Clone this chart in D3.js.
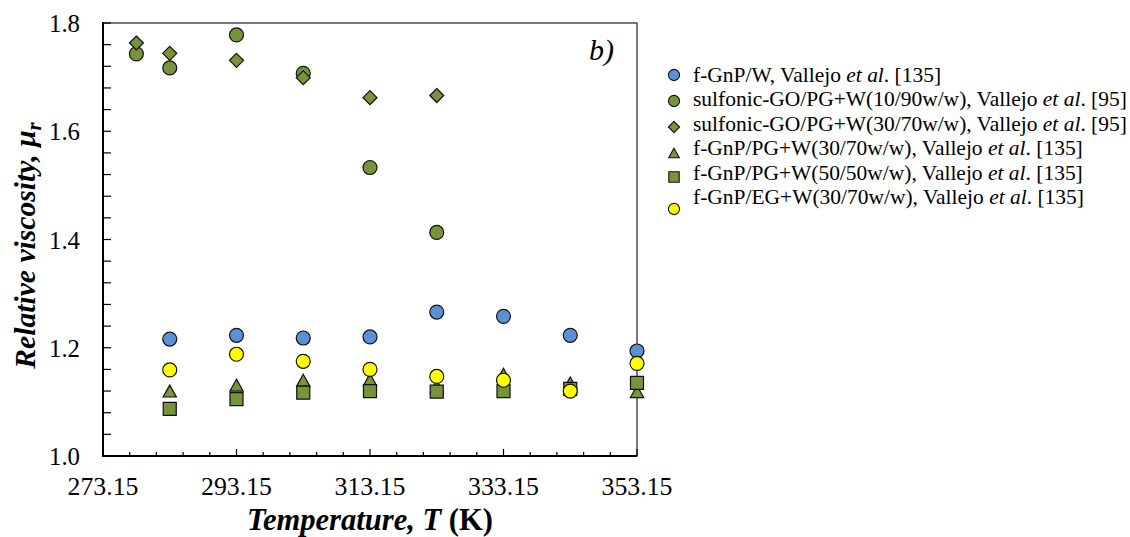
<!DOCTYPE html>
<html>
<head>
<meta charset="utf-8">
<script src="https://cdn.jsdelivr.net/npm/d3@7"></script>
<style>
  html, body { margin: 0; padding: 0; background: #fff; }
  svg { display: block; }
</style>
</head>
<body>
<svg id="chart" width="1130" height="537" font-family="'Liberation Serif', 'DejaVu Serif', 'Noto Serif', serif"></svg>
<script>
// ---------------- data ----------------
const tempsA = [278.15, 283.15, 293.15, 303.15, 313.15, 323.15];
const tempsB = [283.15, 293.15, 303.15, 313.15, 323.15, 333.15, 343.15, 353.15];

const fGnPW        = [1.216, 1.223, 1.218, 1.220, 1.266, 1.258, 1.223, 1.194];
const sulfGO10_90  = [1.743, 1.717, 1.778, 1.707, 1.533, 1.413];
const sulfGO30_70  = [1.763, 1.744, 1.731, 1.699, 1.662, 1.666];
const fGnPPG30_70  = [1.120, 1.131, 1.140, 1.141, 1.128, 1.151, 1.135, 1.119];
const fGnPPG50_50  = [1.087, 1.105, 1.117, 1.120, 1.119, 1.120, 1.124, 1.135];
const fGnPEG30_70  = [1.159, 1.188, 1.175, 1.160, 1.147, 1.140, 1.120, 1.171];

const xTicks = [273.15, 293.15, 313.15, 333.15, 353.15];
const yTicks = [1.0, 1.2, 1.4, 1.6, 1.8];

const seriesNames = [
  ["f-GnP/W, Vallejo ", "[135]"],
  ["sulfonic-GO/PG+W(10/90w/w), Vallejo ", "[95]"],
  ["sulfonic-GO/PG+W(30/70w/w), Vallejo ", "[95]"],
  ["f-GnP/PG+W(30/70w/w), Vallejo ", "[135]"],
  ["f-GnP/PG+W(50/50w/w), Vallejo ", "[135]"],
  ["f-GnP/EG+W(30/70w/w), Vallejo ", "[135]"]
];

const series = [
  { x: tempsB, y: fGnPW,       shape: "circle",   fill: "#5b8fd6" },
  { x: tempsA, y: sulfGO10_90, shape: "circle",   fill: "#77933c" },
  { x: tempsA, y: sulfGO30_70, shape: "diamond",  fill: "#77933c" },
  { x: tempsB, y: fGnPPG30_70, shape: "triangle", fill: "#77933c" },
  { x: tempsB, y: fGnPPG50_50, shape: "square",   fill: "#77933c" },
  { x: tempsB, y: fGnPEG30_70, shape: "circle",   fill: "#ffff00" }
];

// ---------------- layout ----------------
const svg = d3.select("#chart");
const L = 103, R = 637, T = 23, B = 456;

const x = d3.scaleLinear().domain([273.15, 353.15]).range([L, R]);
const y = d3.scaleLinear().domain([1.0, 1.8]).range([B, T]);

// scale a text's font size so its width matches the reference width
function fit(sel, base, target) {
  sel.attr("font-size", base);
  const w = sel.node().getComputedTextLength();
  const fs = base * target / w;
  sel.attr("font-size", fs);
  return fs;
}

// frame
svg.append("rect")
  .attr("x", L).attr("y", T).attr("width", R - L).attr("height", B - T)
  .attr("fill", "none").attr("stroke", "#333").attr("stroke-width", 1.3);

// minor / major ticks (inside)
const xMinor = d3.range(0, 21).map(i => 273.15 + i * 4);
const yMinor = d3.range(0, 21).map(i => 1.0 + i * 0.04);

const g = svg.append("g");
g.selectAll(".xt").data(xMinor).enter().append("line")
  .attr("x1", d => x(d)).attr("x2", d => x(d))
  .attr("y1", B).attr("y2", (d, i) => i % 5 === 0 ? B - 7 : B - 4)
  .attr("stroke", "#000").attr("stroke-width", 1.2);
g.selectAll(".yt").data(yMinor).enter().append("line")
  .attr("y1", d => y(d)).attr("y2", d => y(d))
  .attr("x1", L).attr("x2", L + 8)
  .attr("stroke", "#000").attr("stroke-width", 1.2);

// axes lines
svg.append("line").attr("x1", L).attr("x2", L).attr("y1", T - 1).attr("y2", B + 1)
  .attr("stroke", "#000").attr("stroke-width", 2);
svg.append("line").attr("x1", L - 1).attr("x2", R).attr("y1", B).attr("y2", B)
  .attr("stroke", "#000").attr("stroke-width", 2);

// tick labels
const xl = svg.selectAll(".xl").data(xTicks).enter().append("text")
  .attr("x", d => x(d)).attr("y", 495)
  .attr("text-anchor", "middle")
  .text(d => d.toFixed(2));
const xfs = fit(d3.select(xl.nodes()[0]), 26, 71);
xl.attr("font-size", xfs);

const yl = svg.selectAll(".yl").data(yTicks).enter().append("text")
  .attr("x", 80).attr("y", d => y(d) + 9)
  .attr("text-anchor", "end")
  .text(d => d.toFixed(1));
const yfs = fit(d3.select(yl.nodes()[4]), 25, 31);
yl.attr("font-size", yfs);

// axis titles
const xt = svg.append("text")
  .attr("x", (L + R) / 2).attr("y", 530)
  .attr("text-anchor", "middle")
  .attr("font-weight", "bold");
xt.append("tspan").attr("font-style", "italic").text("Temperature, T ");
xt.append("tspan").text("(K)");
fit(xt, 27, 246);

const yt = svg.append("text")
  .attr("transform", `translate(35,${(T + B) / 2 + 6}) rotate(-90)`)
  .attr("text-anchor", "middle")
  .attr("font-weight", "bold").attr("font-style", "italic");
yt.append("tspan").text("Relative viscosity, μ");
const ysub = yt.append("tspan").attr("dy", 6).text("r");
const ytfs = fit(yt, 27, 250);
ysub.attr("font-size", ytfs * 0.7);

// panel label
const bl = svg.append("text").attr("x", 614).attr("y", 60)
  .attr("text-anchor", "end")
  .attr("font-style", "italic").text("b)");
fit(bl, 26, 25);

// marker path generator
function shapePath(shape, s) {
  switch (shape) {
    case "circle":
      return `M${s},0 A${s},${s} 0 1,1 ${-s},0 A${s},${s} 0 1,1 ${s},0 Z`;
    case "diamond":
      return `M0,${-s} L${s},0 L0,${s} L${-s},0 Z`;
    case "square":
      return `M${-s * 0.93},${-s * 0.93} H${s * 0.93} V${s * 0.93} H${-s * 0.93} Z`;
    case "triangle":
      return `M0,${-s * 0.85} L${s * 0.95},${s * 0.85} L${-s * 0.95},${s * 0.85} Z`;
  }
}

// points
series.forEach(sr => {
  const pts = sr.x.map((t, i) => [t, sr.y[i]]);
  svg.append("g").selectAll("path").data(pts).enter().append("path")
    .attr("transform", d => `translate(${x(d[0])},${y(d[1])})`)
    .attr("d", shapePath(sr.shape, 7))
    .attr("fill", sr.fill)
    .attr("stroke", "#111")
    .attr("stroke-width", 1.2);
});

// legend
const leg = svg.append("g");
const legTexts = [];
series.forEach((sr, i) => {
  const my = 75 + i * 26 - (i === 5 ? -4 : 0) - (i === 4 ? 2 : 0);
  leg.append("path")
    .attr("transform", `translate(674,${my})`)
    .attr("d", shapePath(sr.shape, 5.6))
    .attr("fill", sr.fill).attr("stroke", "#111").attr("stroke-width", 1.1);
  const t = leg.append("text").attr("x", 693).attr("y", 82 + i * 24.4);
  t.append("tspan").text(seriesNames[i][0]);
  t.append("tspan").attr("font-style", "italic").text("et al");
  t.append("tspan").text(". " + seriesNames[i][1]);
  legTexts.push(t);
});
const lfs = fit(legTexts[1], 21, 434);
legTexts.forEach(t => t.attr("font-size", lfs));
</script>
</body>
</html>
